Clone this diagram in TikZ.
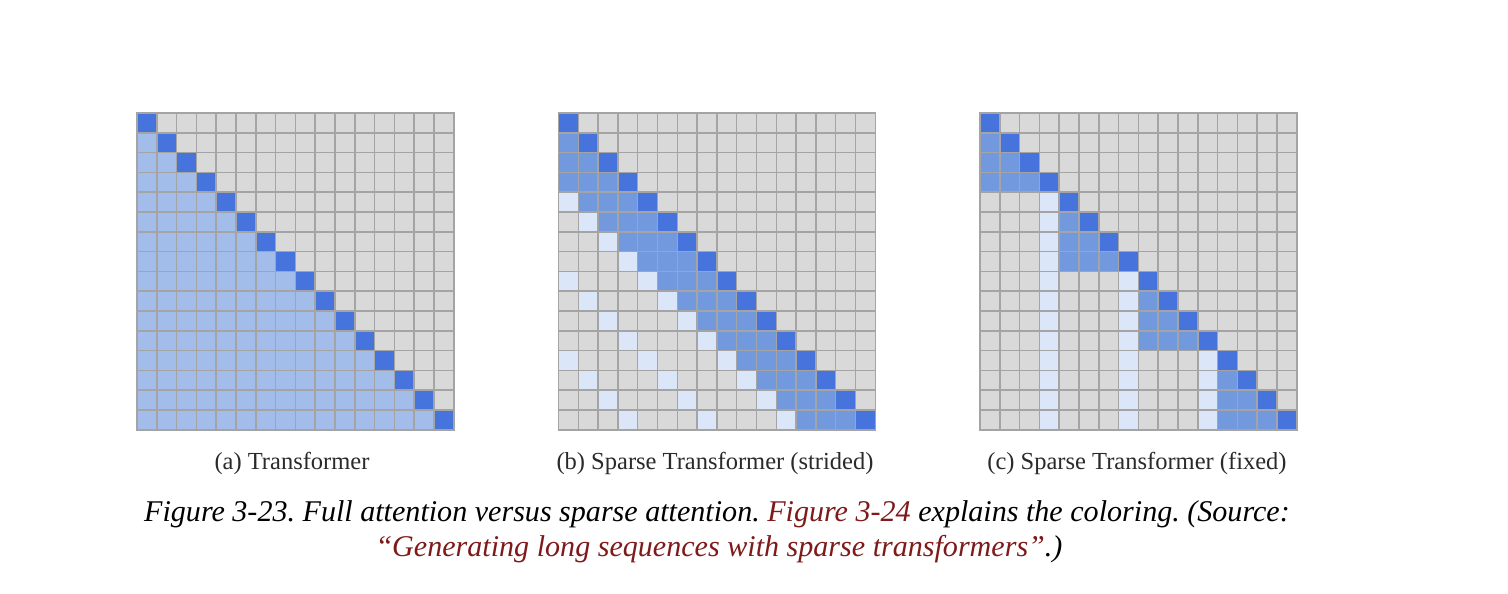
\documentclass[tikz,border=0pt]{standalone}
\usepackage{fontspec}
\setmainfont{Liberation Serif}
\frenchspacing
\definecolor{cdark}{HTML}{4673DC}
\definecolor{cmid}{HTML}{7299DE}
\definecolor{clight}{HTML}{DCE6F9}
\definecolor{cfull}{HTML}{A3BDEB}
\definecolor{cgray}{HTML}{D9D9D9}
\definecolor{cline}{HTML}{A4A4A4}
\definecolor{clink}{HTML}{7E1A1A}
\definecolor{csub}{HTML}{2A2A2A}
\def\exprA{ifthenelse(\j==\i,1,ifthenelse(\j<\i,4,0))}
\def\exprB{ifthenelse(\j==\i,1,ifthenelse(\j<\i && \i-\j<4,2,ifthenelse(\i-\j>=4 && mod(\i-\j,4)==0,3,0)))}
\def\exprC{ifthenelse(\j==\i,1,ifthenelse(\j<\i && floor(\j/4)==floor(\i/4),2,ifthenelse(mod(\j,4)==3 && \j<4*floor(\i/4),3,0)))}
\newcommand\attgrid[3]{%
  \fill[cgray] (#1,#2) rectangle ++(316.8,316.8);
  \foreach \i in {0,...,15}{\foreach \j in {0,...,15}{%
    \pgfmathtruncatemacro\t{#3}%
    \ifcase\t\relax \def\cc{cgray}\or\def\cc{cdark}\or\def\cc{cmid}\or\def\cc{clight}\or\def\cc{cfull}\fi
    \ifnum\t>0 \fill[\cc] (#1+\j*19.8,#2+\i*19.8) rectangle ++(19.8,19.8);\fi
  }}
  \foreach \k in {0,...,16}{%
    \draw[gridline] (#1+\k*19.8,#2) -- ++(0,316.8);
    \draw[gridline] (#1,#2+\k*19.8) -- ++(316.8,0);
  }
}
\begin{document}
\begin{tikzpicture}[x=1bp,y=-1bp,
  gridline/.style={cline,line width=1.5bp,line cap=rect},
  subtext/.style={anchor=base,inner sep=0pt,text=csub,font=\fontsize{24.6pt}{29pt}\selectfont},
  captext/.style={anchor=base,inner sep=0pt,text=black,font=\fontsize{30.2pt}{34pt}\selectfont\itshape}]
\useasboundingbox (0,0) rectangle (1508,594);
\fill[white] (0,0) rectangle (1508,594);
\attgrid{137}{113}{\exprA}
\attgrid{558.5}{113}{\exprB}
\attgrid{980}{113}{\exprC}
\node[subtext] (la) at (292,469.5) {(a) Transformer};
\node[subtext] (lb) at (715,469.5) {(b) Sparse Transformer (strided)};
\node[subtext] (lc) at (1137,469.5) {(c) Sparse Transformer (fixed)};
\node[captext] (cap1) at (717,521) {Figure 3-23. Full attention versus sparse attention. {\color{clink}Figure 3-24} explains the coloring. (Source:};
\node[captext] (cap2) at (719,556) {{\color{clink}“Generating long sequences with sparse transformers”}.)};
\end{tikzpicture}
\end{document}
